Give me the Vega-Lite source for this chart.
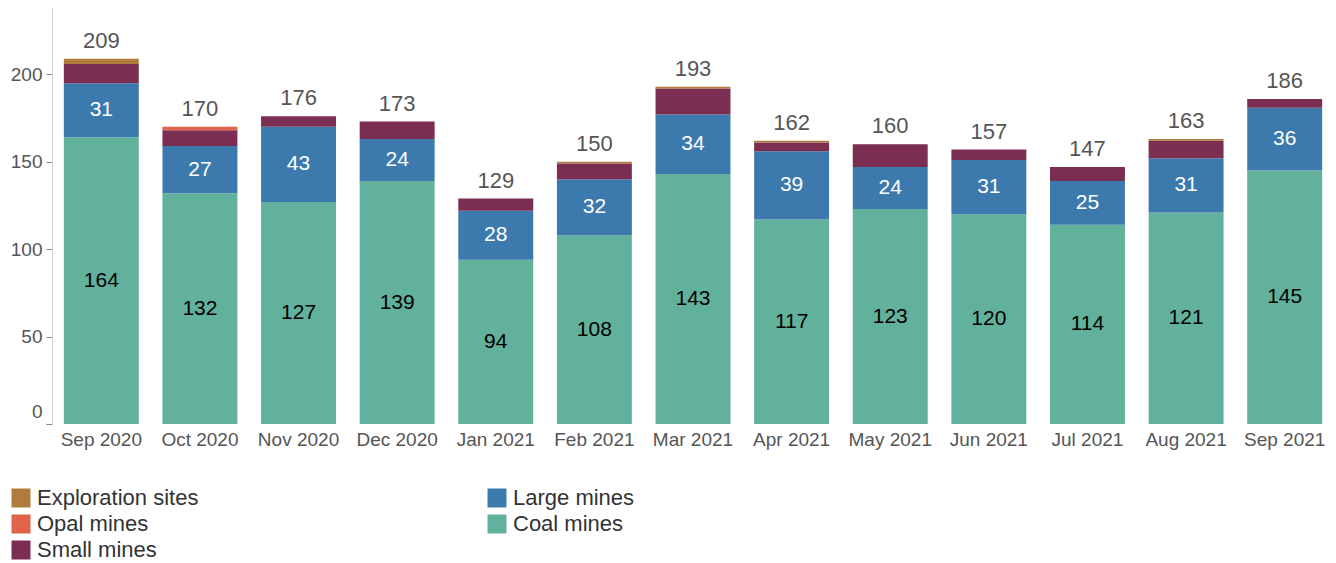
{
  "$schema": "https://vega.github.io/schema/vega-lite/v6.json",
  "autosize": "none",
  "width": 1282,
  "height": 416,
  "padding": {"left": 52, "top": 8, "right": 2, "bottom": 139},
  "config": {
    "view": {"stroke": null},
    "font": "Liberation Sans",
    "axisY": {"grid": false, "labelFontSize": 19, "labelColor": "#555555", "domainColor": "#d0d0d0", "tickColor": "#888888", "tickSize": 6, "labelPadding": 4, "labelFlush": true, "labelFlushOffset": -3}
  },
  "data": {"values": [
    {"month": "Sep 2020", "category": "Coal mines", "value": 164},
    {"month": "Sep 2020", "category": "Large mines", "value": 31},
    {"month": "Sep 2020", "category": "Small mines", "value": 11},
    {"month": "Sep 2020", "category": "Exploration sites", "value": 3},
    {"month": "Oct 2020", "category": "Coal mines", "value": 132},
    {"month": "Oct 2020", "category": "Large mines", "value": 27},
    {"month": "Oct 2020", "category": "Small mines", "value": 9},
    {"month": "Oct 2020", "category": "Opal mines", "value": 2},
    {"month": "Nov 2020", "category": "Coal mines", "value": 127},
    {"month": "Nov 2020", "category": "Large mines", "value": 43},
    {"month": "Nov 2020", "category": "Small mines", "value": 6},
    {"month": "Dec 2020", "category": "Coal mines", "value": 139},
    {"month": "Dec 2020", "category": "Large mines", "value": 24},
    {"month": "Dec 2020", "category": "Small mines", "value": 10},
    {"month": "Jan 2021", "category": "Coal mines", "value": 94},
    {"month": "Jan 2021", "category": "Large mines", "value": 28},
    {"month": "Jan 2021", "category": "Small mines", "value": 7},
    {"month": "Feb 2021", "category": "Coal mines", "value": 108},
    {"month": "Feb 2021", "category": "Large mines", "value": 32},
    {"month": "Feb 2021", "category": "Small mines", "value": 9},
    {"month": "Feb 2021", "category": "Exploration sites", "value": 1},
    {"month": "Mar 2021", "category": "Coal mines", "value": 143},
    {"month": "Mar 2021", "category": "Large mines", "value": 34},
    {"month": "Mar 2021", "category": "Small mines", "value": 15},
    {"month": "Mar 2021", "category": "Exploration sites", "value": 1},
    {"month": "Apr 2021", "category": "Coal mines", "value": 117},
    {"month": "Apr 2021", "category": "Large mines", "value": 39},
    {"month": "Apr 2021", "category": "Small mines", "value": 5},
    {"month": "Apr 2021", "category": "Exploration sites", "value": 1},
    {"month": "May 2021", "category": "Coal mines", "value": 123},
    {"month": "May 2021", "category": "Large mines", "value": 24},
    {"month": "May 2021", "category": "Small mines", "value": 13},
    {"month": "Jun 2021", "category": "Coal mines", "value": 120},
    {"month": "Jun 2021", "category": "Large mines", "value": 31},
    {"month": "Jun 2021", "category": "Small mines", "value": 6},
    {"month": "Jul 2021", "category": "Coal mines", "value": 114},
    {"month": "Jul 2021", "category": "Large mines", "value": 25},
    {"month": "Jul 2021", "category": "Small mines", "value": 8},
    {"month": "Aug 2021", "category": "Coal mines", "value": 121},
    {"month": "Aug 2021", "category": "Large mines", "value": 31},
    {"month": "Aug 2021", "category": "Small mines", "value": 10},
    {"month": "Aug 2021", "category": "Exploration sites", "value": 1},
    {"month": "Sep 2021", "category": "Coal mines", "value": 145},
    {"month": "Sep 2021", "category": "Large mines", "value": 36},
    {"month": "Sep 2021", "category": "Small mines", "value": 5}
  ]},
  "transform": [
    {"calculate": "indexof(['Coal mines','Large mines','Small mines','Opal mines','Exploration sites'], datum.category)", "as": "rank"}
  ],
  "encoding": {
    "x": {
      "field": "month", "type": "ordinal", "sort": null,
      "scale": {"paddingInner": 0.24, "paddingOuter": 0.12},
      "axis": {"title": null, "labelAngle": 0, "labelFontSize": 19, "labelColor": "#555555", "ticks": false, "domain": false, "labelPadding": 6}
    }
  },
  "layer": [
    {
      "mark": {"type": "bar"},
      "encoding": {
        "y": {
          "field": "value", "type": "quantitative", "stack": "zero",
          "scale": {"domain": [0, 238], "nice": false},
          "axis": {"title": null, "values": [0, 50, 100, 150, 200]}
        },
        "color": {
          "field": "category", "type": "nominal",
          "scale": {
            "domain": ["Exploration sites", "Opal mines", "Small mines", "Large mines", "Coal mines"],
            "range": ["#b07b3d", "#e0634a", "#7b2e52", "#3c7aae", "#62b19c"]
          },
          "legend": {
            "title": null, "orient": "none", "legendX": -42, "legendY": 479,
            "columns": 2, "columnPadding": 287, "rowPadding": 4,
            "labelFontSize": 22, "labelColor": "#333333", "labelOffset": 5, "labelLimit": 400,
            "symbolType": "square", "symbolSize": 361, "symbolStrokeWidth": 0, "symbolOpacity": 1
          }
        },
        "order": {"field": "rank", "type": "quantitative"}
      }
    },
    {
      "transform": [
        {"stack": "value", "groupby": ["month"], "sort": [{"field": "rank"}], "as": ["y0", "y1"]},
        {"filter": "datum.category === 'Coal mines' || datum.category === 'Large mines'"},
        {"calculate": "(datum.y0 + datum.y1) / 2", "as": "mid"}
      ],
      "mark": {"type": "text", "fontSize": 21, "baseline": "middle"},
      "encoding": {
        "y": {"field": "mid", "type": "quantitative", "axis": {"title": null, "values": [0, 50, 100, 150, 200]}},
        "text": {"field": "value", "type": "quantitative"},
        "color": {"condition": {"test": "datum.category === 'Coal mines'", "value": "#000000"}, "value": "#ffffff"}
      }
    },
    {
      "transform": [
        {"aggregate": [{"op": "sum", "field": "value", "as": "total"}], "groupby": ["month"]}
      ],
      "mark": {"type": "text", "fontSize": 22, "baseline": "bottom", "dy": -6, "color": "#555555"},
      "encoding": {
        "y": {"field": "total", "type": "quantitative", "axis": {"title": null, "values": [0, 50, 100, 150, 200]}},
        "text": {"field": "total", "type": "quantitative"}
      }
    }
  ]
}
